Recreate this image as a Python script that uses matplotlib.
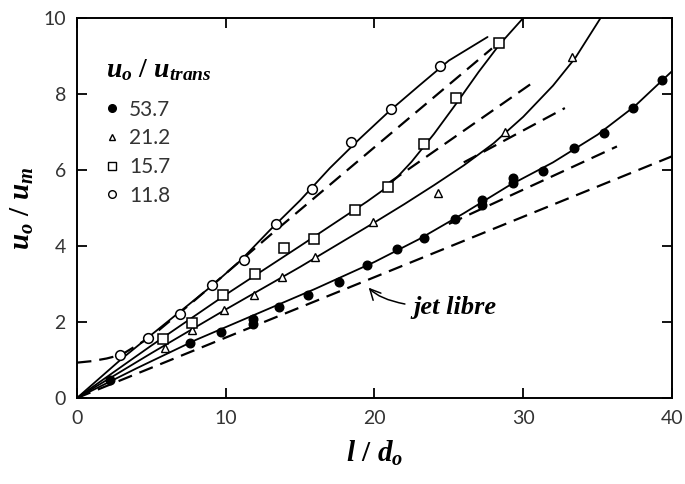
import matplotlib
matplotlib.use("Agg")
import matplotlib.pyplot as plt
from matplotlib.lines import Line2D

# ---------------- data ----------------
# measured points, u_o/u_trans = 53.7 (filled circles)
x_537 = [2.2, 7.6, 9.7, 11.8, 11.8, 13.6, 15.5, 17.6, 19.5, 21.5, 23.3, 25.4,
         27.2, 27.2, 29.3, 29.3, 31.3, 33.4, 35.4, 37.4, 39.3]
y_537 = [0.48, 1.45, 1.74, 1.95, 2.07, 2.39, 2.71, 3.05, 3.5, 3.92, 4.2, 4.7,
         5.08, 5.2, 5.65, 5.8, 5.98, 6.57, 6.97, 7.63, 8.37]
# 21.2 (triangles)
x_212 = [5.9, 7.7, 9.9, 11.9, 13.8, 16.0, 19.9, 24.3, 28.8, 33.3]
y_212 = [1.31, 1.78, 2.31, 2.72, 3.18, 3.71, 4.63, 5.4, 7.0, 8.98]
# 15.7 (squares)
x_157 = [5.8, 7.7, 9.8, 12.0, 13.9, 15.9, 18.7, 20.9, 23.3, 25.5, 28.4]
y_157 = [1.55, 1.97, 2.71, 3.26, 3.95, 4.18, 4.95, 5.55, 6.68, 7.89, 9.34]
# 11.8 (open circles)
x_118 = [2.9, 4.8, 6.9, 9.1, 11.2, 13.4, 15.8, 18.4, 21.1, 24.4]
y_118 = [1.12, 1.58, 2.2, 2.97, 3.63, 4.58, 5.5, 6.73, 7.6, 8.74]

# solid fitted curves
cx_537 = [0, 4, 8, 12, 16, 20, 23, 26, 29, 32, 35, 37.5, 40]
cy_537 = [0, 0.78, 1.53, 2.2, 2.87, 3.58, 4.18, 4.86, 5.58, 6.2, 6.93, 7.68, 8.6]
cx_212 = [0, 5, 10, 15, 20, 22, 24, 26, 28, 30, 32, 33.5, 35.2]
cy_212 = [0, 1.18, 2.33, 3.45, 4.62, 5.1, 5.6, 6.12, 6.7, 7.4, 8.22, 8.95, 10]
cx_157 = [0, 5, 10, 15, 18, 19.5, 20.5, 21.5, 22.5, 24, 25.5, 27, 28.4, 30]
cy_157 = [0, 1.38, 2.72, 4.0, 4.78, 5.17, 5.45, 5.8, 6.22, 6.95, 7.75, 8.58, 9.3, 10]
cx_118 = [0, 3, 6, 9, 11, 13, 15, 17, 19, 21, 23, 25, 27.6]
cy_118 = [0, 1.03, 1.98, 2.93, 3.62, 4.43, 5.2, 6.05, 6.82, 7.55, 8.22, 8.88, 9.5]

# dashed asymptotes
dx_118 = [0, 1, 2, 3, 5, 8, 13, 20, 27.9]
dy_118 = [0.93, 0.97, 1.04, 1.14, 1.62, 2.6, 4.29, 6.6, 9.2]
dx_157 = [21.0, 30.9]
dy_157 = [5.67, 8.37]
dx_212 = [26.0, 32.8]
dy_212 = [6.2, 7.63]
dx_537 = [25.0, 36.3]
dy_537 = [4.58, 6.62]
dx_free = [0, 40]
dy_free = [0, 6.36]

legend_labels = ["53.7", "21.2", "15.7", "11.8"]
x_ticks = [0, 10, 20, 30, 40]
y_ticks = [0, 2, 4, 6, 8, 10]

# ---------------- styling ----------------
plt.rcParams["mathtext.fontset"] = "custom"
plt.rcParams["mathtext.it"] = "Liberation Serif:bold:italic"
plt.rcParams["mathtext.rm"] = "Liberation Serif:bold"
plt.rcParams["mathtext.bf"] = "Liberation Serif:bold"

tick_font = "Lato"
tick_col = "#333333"

fig = plt.figure(figsize=(6.85, 4.84), dpi=100)
ax = fig.add_axes([0.1124, 0.1777, 0.8686, 0.7851])

lw = 1.3
dash = (6.5, 3.6)

# solid curves
for cx, cy in [(cx_537, cy_537), (cx_212, cy_212), (cx_157, cy_157), (cx_118, cy_118)]:
    ax.plot(cx, cy, color="black", lw=lw, solid_capstyle="round",
            solid_joinstyle="round", zorder=2)

# dashed lines
for dx, dy in [(dx_118, dy_118), (dx_157, dy_157), (dx_212, dy_212),
               (dx_537, dy_537), (dx_free, dy_free)]:
    ax.plot(dx, dy, color="black", lw=1.6, dashes=dash, zorder=2)

# markers
ax.plot(x_537, y_537, "o", ms=6.2, mfc="black", mec="black", zorder=3)
ax.plot(x_212, y_212, "^", ms=5.3, mfc="white", mec="black", mew=1.0, zorder=3)
ax.plot(x_157, y_157, "s", ms=6.5, mfc="white", mec="black", mew=1.1, zorder=3)
ax.plot(x_118, y_118, "o", ms=7.0, mfc="white", mec="black", mew=1.1, zorder=3)

ax.set_xlim(0, 40)
ax.set_ylim(0, 10)
ax.set_xticks(x_ticks)
ax.set_yticks(y_ticks)
ax.tick_params(direction="in", length=7, width=1.3, top=True, right=True,
               labelsize=14, colors="black", labelcolor=tick_col)
ax.tick_params(axis="x", pad=9)
ax.tick_params(axis="y", pad=8)
for lab in ax.get_xticklabels() + ax.get_yticklabels():
    lab.set_fontfamily(tick_font)
for s in ax.spines.values():
    s.set_linewidth(1.4)

ax.set_xlabel(r"$l\ /\ d_o$", fontsize=21, labelpad=8)
ax.set_ylabel(r"$u_o\ /\ u_m$", fontsize=21, labelpad=5)

# legend
handles = [
    Line2D([], [], ls="none", marker="o", ms=5.5, mfc="black", mec="black"),
    Line2D([], [], ls="none", marker="^", ms=5.0, mfc="white", mec="black", mew=1.0),
    Line2D([], [], ls="none", marker="s", ms=5.5, mfc="white", mec="black", mew=1.0),
    Line2D([], [], ls="none", marker="o", ms=5.5, mfc="white", mec="black", mew=1.0),
]
leg = ax.legend(handles, legend_labels, loc="upper left",
                bbox_to_anchor=(0.035, 0.925), frameon=False,
                title=r"$u_o\ /\ u_{trans}$", title_fontsize=20,
                prop={"family": tick_font, "size": 15},
                handlelength=0.6, handletextpad=0.5, labelspacing=0.42,
                alignment="left", borderaxespad=0)
leg._legend_box.sep = 12
for t in leg.get_texts():
    t.set_color(tick_col)

ax.annotate("jet libre", xy=(19.55, 2.93), xytext=(22.6, 2.37),
            ha="left", va="center", fontsize=19,
            fontfamily="Liberation Serif", fontweight="bold", fontstyle="italic",
            arrowprops=dict(arrowstyle="->", color="black", lw=1.1,
                            connectionstyle="angle3,angleA=0,angleB=-50",
                            shrinkA=4, shrinkB=1))

fig.savefig("out.png", dpi=100)
